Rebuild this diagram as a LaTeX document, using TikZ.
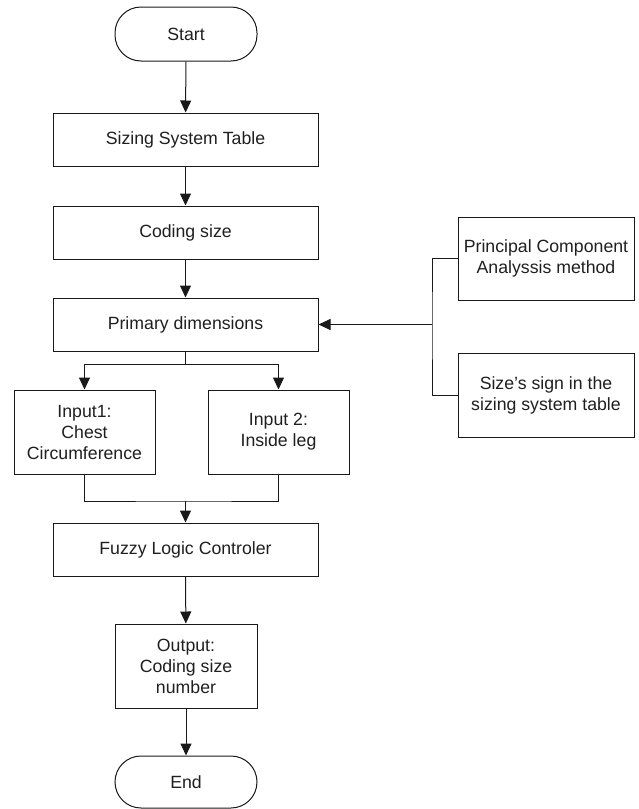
\documentclass[tikz,border=0pt]{standalone}
\usepackage{fontspec}
\setmainfont{Liberation Sans}
\usetikzlibrary{arrows.meta}
\begin{document}
\begin{tikzpicture}[x=1pt,y=1pt,
  every node/.style={font=\fontsize{17.7}{21}\selectfont, text=black!88, align=center, inner sep=0pt},
  box/.style={draw=black!90, line width=1pt, minimum width=#1, rectangle},
  box/.default=265pt,
  term/.style={draw=black!90, line width=1pt, minimum width=142pt, rounded corners=26pt},
  conn/.style={draw=black!90, line width=1pt},
  arr/.style={conn, -{Triangle[length=12pt,width=11pt]}}]
\useasboundingbox (0,0) rectangle (638,-809);
\node[term, minimum height=54pt] (start) at (186,-34) {Start};
\node[box, minimum height=53pt] (sizing) at (185.5,-139.5) {Sizing System Table};
\node[box, minimum height=53pt] (coding) at (185.5,-232.5) {Coding size};
\node[box, minimum height=53pt] (primary) at (185.5,-324.5) {Primary dimensions};
\node[box=141pt, minimum height=84pt] (in1) at (84.5,-432) {Input1:\\Chest\\Circumference};
\node[box=141pt, minimum height=84pt] (in2) at (278.5,-432) {Input 2:\\Inside leg};
\node[box, minimum height=53pt] (fuzzy) at (185.5,-549.5) {Fuzzy Logic Controler};
\node[box=142pt, minimum height=84pt] (output) at (186,-666) {Output:\\Coding size\\number};
\node[term, minimum height=52pt] (end) at (186,-782) {End};
\node[box=176pt, minimum height=83pt] (pca) at (546,-258.5) {Principal Component\\Analyssis method};
\node[box=176pt, minimum height=84pt] (sign) at (546,-395) {Size’s sign in the\\sizing system table};

\coordinate (split) at (185.5,-364);
\coordinate (merge) at (185.5,-501);
\coordinate (br) at (432,-324.5);

\draw[arr] (start) -- (sizing);
\draw[arr] (sizing) -- (coding);
\draw[arr] (coding) -- (primary);
\draw[conn] (primary.south) -- (split);
\draw[arr] (split) -| (in1.north);
\draw[arr] (split) -| (in2.north);
\draw[conn] (in1.south) |- (merge) -| (in2.south);
\draw[arr] (merge) -- (fuzzy.north);
\draw[arr] (fuzzy) -- (output);
\draw[arr] (output) -- (end);
\draw[conn] (pca.west) -| (br) |- (sign.west);
\draw[arr] (br) -- (primary.east);
\end{tikzpicture}
\end{document}
